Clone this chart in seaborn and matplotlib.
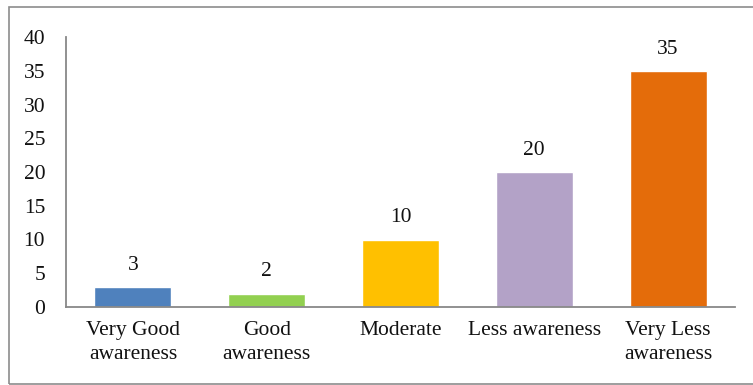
import matplotlib
matplotlib.use("Agg")
import matplotlib.pyplot as plt
import seaborn as sns
import pandas as pd
from matplotlib.patches import Rectangle

categories = ["Very Good\nawareness", "Good\nawareness", "Moderate", "Less awareness", "Very Less\nawareness"]
counts = [3, 2, 10, 20, 35]
colors = ["#4F81BD", "#92D050", "#FFC000", "#B3A2C7", "#E46C0A"]
y_ticks = [0, 5, 10, 15, 20, 25, 30, 35, 40]

sns.set_theme(style="white")
plt.rcParams["font.family"] = ["Liberation Serif", "DejaVu Serif"]

df = pd.DataFrame({"category": categories, "count": counts})

fig = plt.figure(figsize=(7.53, 3.85), dpi=100)
ax = fig.add_axes([66 / 753, 1 - 307 / 385, (735 - 66) / 753, (307 - 37) / 385])

sns.barplot(data=df, x="category", y="count", hue="category", palette=colors,
            legend=False, width=0.575, saturation=1, ax=ax)

fs = 15.5
txt = "#111111"
for i, v in enumerate(counts):
    ax.text(i, v + 1.8, str(v), ha="center", va="bottom", fontsize=fs, color=txt)

ax.set_ylim(0, 40)
ax.set_yticks(y_ticks)
ax.set_yticklabels([str(t) for t in y_ticks], fontsize=fs, color=txt)
ax.set_xticks(range(len(categories)))
ax.set_xticklabels(categories, fontsize=fs, color=txt, linespacing=1.4)
ax.tick_params(axis="y", length=0, pad=15)
ax.tick_params(axis="x", length=0, pad=10)
ax.set_xlabel("")
ax.set_ylabel("")

for side in ["top", "right"]:
    ax.spines[side].set_visible(False)
for side in ["left", "bottom"]:
    ax.spines[side].set_color("#888888")
    ax.spines[side].set_linewidth(1.3)

# outer frame around the chart area
fig.patches.append(Rectangle((9 / 753, 1 / 385), 760 / 753, 377 / 385,
                             transform=fig.transFigure, fill=False,
                             edgecolor="#8c8c8c", linewidth=1.2))

fig.savefig("out.png", dpi=100)
